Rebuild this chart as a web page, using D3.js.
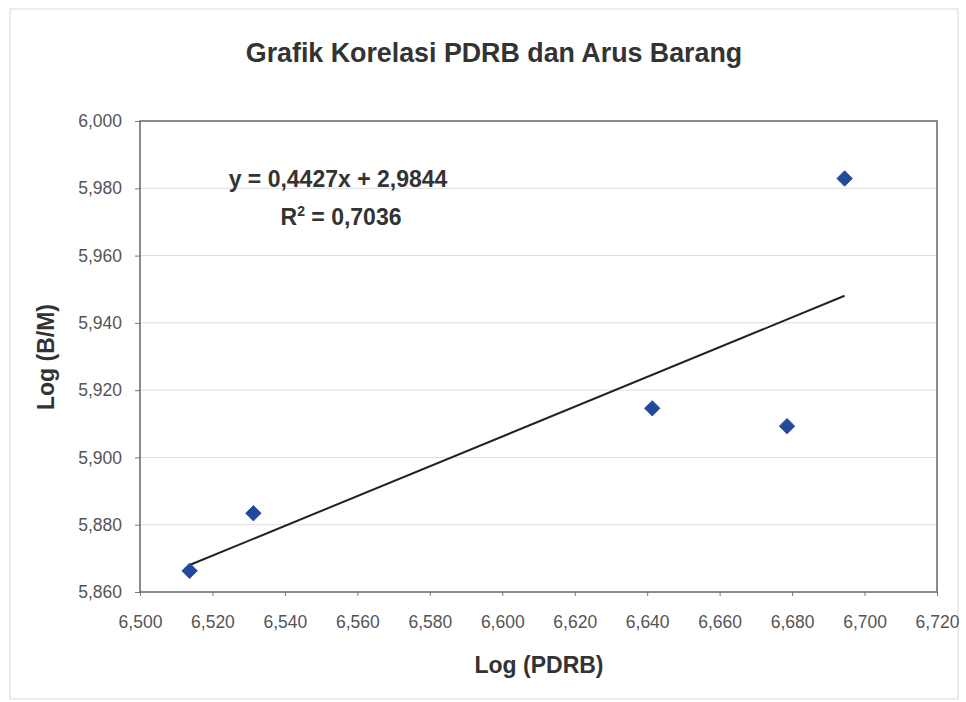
<!DOCTYPE html>
<html>
<head>
<meta charset="utf-8">
<style>
  body { margin: 0; background: #fff; font-family: "Liberation Sans", Arial, sans-serif; }
  svg { display: block; }
</style>
</head>
<body>
<script src="https://d3js.org/d3.v7.min.js"></script>
<script>
// data
var logPDRB = [6.5137, 6.5313, 6.6414, 6.6786, 6.6945];
var logBM = [5.8663, 5.8834, 5.9146, 5.9093, 5.9829];
var xTicks = [6.50, 6.52, 6.54, 6.56, 6.58, 6.60, 6.62, 6.64, 6.66, 6.68, 6.70, 6.72];
var yTicks = [5.86, 5.88, 5.90, 5.92, 5.94, 5.96, 5.98, 6.00];
var slope = 0.4427, intercept = 2.9844, rSquared = 0.7036;

var width = 966, height = 702;
var margin = {top: 121, right: 29, bottom: 110, left: 140};
var innerWidth = width - margin.left - margin.right;
var innerHeight = height - margin.top - margin.bottom;

var svg = d3.select('body').append('svg')
    .attr('width', width)
    .attr('height', height);

// faint outer chart border
svg.append('rect')
    .attr('x', 10).attr('y', 9)
    .attr('width', 948).attr('height', 690)
    .attr('fill', 'none')
    .attr('stroke', '#e6e6e6')
    .attr('stroke-width', 1.5);

var g = svg.append('g')
    .attr('transform', 'translate(' + margin.left + ',' + margin.top + ')');

var x = d3.scaleLinear().domain([6.50, 6.72]).range([0, innerWidth]);
var y = d3.scaleLinear().domain([5.86, 6.00]).range([innerHeight, 0]);

var fmt = function(d) { return d3.format('.3f')(d).replace('.', ','); };

// gridlines
g.selectAll('.grid')
    .data(yTicks.slice(1, -1))
    .enter().append('line')
    .attr('class', 'grid')
    .attr('x1', 0).attr('x2', innerWidth)
    .attr('y1', function(d) { return y(d); })
    .attr('y2', function(d) { return y(d); })
    .attr('stroke', '#dcdcdc')
    .attr('stroke-width', 1);

// axes
var xAxis = d3.axisBottom(x).tickValues(xTicks).tickFormat(fmt).tickSize(4).tickPadding(20);
var yAxis = d3.axisLeft(y).tickValues(yTicks).tickFormat(fmt).tickSize(5).tickPadding(13);

var gx = g.append('g')
    .attr('transform', 'translate(0,' + innerHeight + ')')
    .call(xAxis);
var gy = g.append('g').call(yAxis);

[gx, gy].forEach(function(a) {
    a.attr('font-size', 17.5).attr('font-family', '"Liberation Sans", Arial, sans-serif');
    a.select('.domain').remove();
    a.selectAll('.tick line').attr('stroke', '#777');
    a.selectAll('.tick text').attr('fill', '#555');
});

// plot frame
g.append('rect')
    .attr('width', innerWidth)
    .attr('height', innerHeight)
    .attr('fill', 'none')
    .attr('stroke', '#666')
    .attr('stroke-width', 1.5);

// trendline
var xMin = d3.min(logPDRB), xMax = d3.max(logPDRB);
g.append('line')
    .attr('x1', x(xMin)).attr('y1', y(slope * xMin + intercept))
    .attr('x2', x(xMax)).attr('y2', y(slope * xMax + intercept))
    .attr('stroke', '#222')
    .attr('stroke-width', 2);

// points
var pts = logPDRB.map(function(d, i) { return {x: d, y: logBM[i]}; });
g.selectAll('.pt')
    .data(pts)
    .enter().append('path')
    .attr('class', 'pt')
    .attr('d', d3.symbol().type(d3.symbolDiamond2).size(150))
    .attr('transform', function(d) { return 'translate(' + x(d.x) + ',' + y(d.y) + ')'; })
    .attr('fill', '#23479a')
    .attr('stroke', '#2c4f9e')
    .attr('stroke-width', 1);

// equation
svg.append('text')
    .attr('x', 338).attr('y', 187)
    .attr('text-anchor', 'middle')
    .attr('fill', '#333')
    .style('font-size', '23px')
    .style('font-weight', 'bold')
    .text('y = ' + String(slope).replace('.', ',') + 'x + ' + String(intercept).replace('.', ','));

var r2 = svg.append('text')
    .attr('x', 341).attr('y', 225)
    .attr('text-anchor', 'middle')
    .attr('fill', '#333')
    .style('font-size', '23px')
    .style('font-weight', 'bold');
r2.append('tspan').text('R');
r2.append('tspan').attr('dy', -9).style('font-size', '14px').text('2');
r2.append('tspan').attr('dy', 9).text(' = ' + String(rSquared).replace('.', ','));

// title
svg.append('text')
    .attr('x', 494).attr('y', 62)
    .attr('text-anchor', 'middle')
    .attr('fill', '#333')
    .style('font-size', '26.8px')
    .style('font-weight', 'bold')
    .text('Grafik Korelasi PDRB dan Arus Barang');

// axis labels
svg.append('text')
    .attr('x', 539).attr('y', 673)
    .attr('text-anchor', 'middle')
    .attr('fill', '#333')
    .style('font-size', '23px')
    .style('font-weight', 'bold')
    .text('Log (PDRB)');

svg.append('text')
    .attr('transform', 'translate(54,357) rotate(-90)')
    .attr('text-anchor', 'middle')
    .attr('fill', '#333')
    .style('font-size', '23px')
    .style('font-weight', 'bold')
    .text('Log (B/M)');
</script>
</body>
</html>
